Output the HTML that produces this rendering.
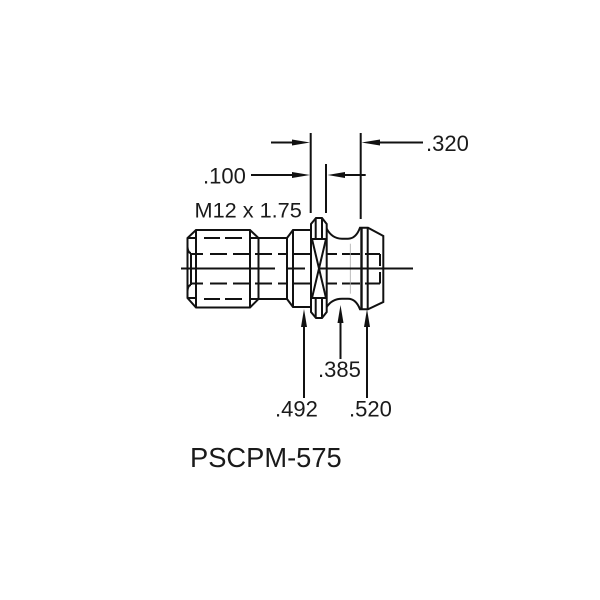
<!DOCTYPE html>
<html>
<head>
<meta charset="utf-8">
<style>
html,body{margin:0;padding:0;background:#fff;width:600px;height:600px;overflow:hidden}
svg{display:block}
text{font-family:"Liberation Sans",sans-serif;fill:#1a1a1a}
</style>
</head>
<body>
<svg width="600" height="600" viewBox="0 0 600 600" xmlns="http://www.w3.org/2000/svg">
<rect width="600" height="600" fill="#fff"/>
<g fill="none" stroke="#111" stroke-width="2">
<!-- thread -->
<path d="M196 230H250L258.500 238V299L250 307.500H196L187.500 298V238Z"/>
<path d="M196 230V307.500M250 230V307.500"/>
<path d="M187.500 238H196M187.500 298H196M250 238H258.500M250 299H258.500"/>
<path d="M191 253V285M187.500 247Q188 253 191 253M187.500 291Q188 285 191 285"/>
<!-- neck -->
<path d="M258.500 238H287M258.500 299H287"/>
<!-- collar -->
<path d="M287 238L293 230H311M287 238V299L293 307H311M293 230V307"/>
<!-- flange -->
<path d="M311 224L316 218H322L326.700 224V312L322 318H316L311 312Z"/>
<path d="M315.700 218V239M322 218V239M315.700 298V318M322 298V318"/>
<path d="M311 239H326.700M311 298H326.700M312 239L326 298M326 239L312 298"/>
<!-- head -->
<path d="M326.700 228.700Q332 238.700 342 238.700H348Q356 238.700 360 227.700H368L383.300 236V302L368 309.300H360Q356 298.700 348 298.700H342Q332 298.700 326.700 307"/>
<path d="M361.500 227.700V309.300" stroke-width="2.400"/>
<path d="M367.700 227.700V309.300M380 254V266M380 272V283.500"/>
<!-- dashed hidden lines -->
<path d="M204 238H220M225 238H242M204 299H220M225 299H242"/>
<path d="M191 254H203M210 254H227M233 254H249M255 254H272M278 254H287M293 254H310M327 254H337M342 254H360M365 254H380"/>
<path d="M191 283.500H203M210 283.500H227M233 283.500H249M255 283.500H272M278 283.500H287M293 283.500H310M327 283.500H337M342 283.500H360M365 283.500H380"/>
<path d="M350.300 243.700V293.700" stroke="#aaa" stroke-width="0.800"/>
<!-- centre line -->
<path d="M181 268.500H275M288 268.500H305M320 268.500H413"/>
<!-- extension lines -->
<path d="M310.700 133V213M326 164V213M360.700 133V219"/>
<!-- dimension lines -->
<path d="M271 142.500H300M251 175H300M337 175H365.700M423 142.500H372"/>
<path d="M304 320V398M340.500 316V359M367 320V398"/>
</g>
<g fill="#111" stroke="none">
<path d="M310 142.500L292 139.500V145.500Z"/>
<path d="M310 175L292 172V178Z"/>
<path d="M327.500 175L345 172V178Z"/>
<path d="M361.500 142.500L380 139.500V145.500Z"/>
<path d="M304 309L301 327H307Z"/>
<path d="M340.500 305L337.500 323H343.500Z"/>
<path d="M367 309L364 327H370Z"/>
</g>
<text x="426" y="151" font-size="22">.320</text>
<text x="203" y="183.500" font-size="22">.100</text>
<text x="194.500" y="217.500" font-size="21.700">M12 x 1.75</text>
<text x="318" y="377" font-size="22">.385</text>
<text x="275" y="416.500" font-size="22">.492</text>
<text x="349" y="416.500" font-size="22">.520</text>
<text x="190" y="467" font-size="27.300">PSCPM-575</text>
</svg>
</body>
</html>
